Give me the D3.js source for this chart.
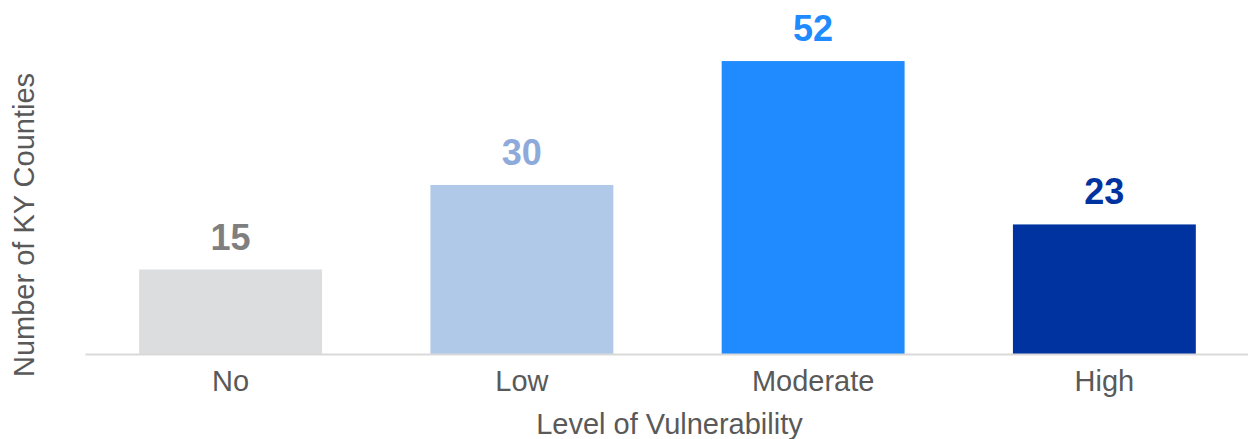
<!DOCTYPE html>
<html>
<head>
<meta charset="utf-8">
<script src="https://cdn.jsdelivr.net/npm/d3@7"></script>
<style>
  body { margin: 0; background: #fff; }
  text { font-family: "Liberation Sans", Arial, sans-serif; }
</style>
</head>
<body>
<div id="chart"></div>
<script>
// data
var categories = ["No", "Low", "Moderate", "High"];
var counts = [15, 30, 52, 23];
var barColors = ["#dcdddf", "#b0c9e8", "#1f8bff", "#0033a0"];
var labelColors = ["#7f7f7f", "#8eaadb", "#1f8bff", "#0033a0"];

var svgWidth = 1248;
var svgHeight = 439;

var margin = { top: 16, right: -2, bottom: 85, left: 85 };
var width = svgWidth - margin.left - margin.right;
var height = svgHeight - margin.top - margin.bottom;

var svg = d3.select("#chart")
  .append("svg")
  .attr("width", svgWidth)
  .attr("height", svgHeight);

var chartGroup = svg.append("g")
  .attr("transform", `translate(${margin.left}, ${margin.top})`);

var data = categories.map((c, i) => ({ cat: c, value: counts[i], bar: barColors[i], label: labelColors[i] }));

var xBandScale = d3.scaleBand()
  .domain(categories)
  .range([0, width])
  .paddingInner(0.372)
  .paddingOuter(0.186);

var yLinearScale = d3.scaleLinear()
  .domain([0, 60])
  .range([height, 0]);

// bars
chartGroup.selectAll("rect.bar")
  .data(data)
  .enter()
  .append("rect")
  .attr("class", "bar")
  .attr("x", d => xBandScale(d.cat))
  .attr("y", d => yLinearScale(d.value))
  .attr("width", xBandScale.bandwidth())
  .attr("height", d => height - yLinearScale(d.value))
  .attr("fill", d => d.bar);

// value labels
chartGroup.selectAll("text.value")
  .data(data)
  .enter()
  .append("text")
  .attr("class", "value")
  .attr("x", d => xBandScale(d.cat) + xBandScale.bandwidth() / 2)
  .attr("y", d => yLinearScale(d.value) - 20)
  .attr("text-anchor", "middle")
  .attr("font-size", "36px")
  .attr("font-weight", "bold")
  .attr("fill", d => d.label)
  .text(d => d.value);

// x axis
var bottomAxis = d3.axisBottom(xBandScale).tickSize(0).tickPadding(16);
var xAxis = chartGroup.append("g")
  .attr("transform", `translate(0, ${height})`)
  .call(bottomAxis);

xAxis.select(".domain")
  .attr("stroke", "#d9d9d9")
  .attr("stroke-width", 2);

xAxis.selectAll("text")
  .attr("font-size", "29px")
  .attr("fill", "#595959")
  .attr("font-family", "Liberation Sans, Arial, sans-serif");

// axis titles
chartGroup.append("text")
  .attr("x", width / 2 + 2)
  .attr("y", height + 80)
  .attr("text-anchor", "middle")
  .attr("font-size", "29px")
  .attr("fill", "#595959")
  .text("Level of Vulnerability");

chartGroup.append("text")
  .attr("transform", "rotate(-90)")
  .attr("x", 0 - (height / 2) - 40)
  .attr("y", 34 - margin.left)
  .attr("text-anchor", "middle")
  .attr("font-size", "29px")
  .attr("fill", "#595959")
  .text("Number of KY Counties");
</script>
</body>
</html>
